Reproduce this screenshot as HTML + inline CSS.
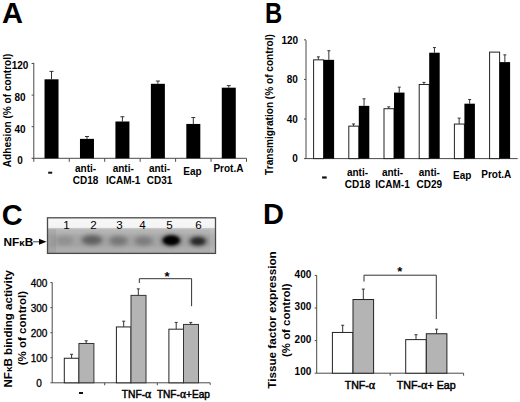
<!DOCTYPE html>
<html><head><meta charset="utf-8"><style>
html,body{margin:0;padding:0;background:#fff;}
body{width:520px;height:402px;overflow:hidden;}
svg{display:block;font-family:"Liberation Sans", sans-serif;}
</style></head><body>
<svg width="520" height="402" viewBox="0 0 520 402">
<rect width="520" height="402" fill="#fff"/>
<text x="12.6" y="22.6" font-size="29" font-weight="bold" text-anchor="middle" >A</text>
<line x1="33.8" y1="62.8" x2="33.8" y2="158.3" stroke="#4a4a4a" stroke-width="1"/>
<line x1="33.3" y1="158.3" x2="246.5" y2="158.3" stroke="#4a4a4a" stroke-width="1"/>
<line x1="31.6" y1="158.3" x2="33.8" y2="158.3" stroke="#4a4a4a" stroke-width="1"/>
<text x="20" y="164.1" font-size="10" font-weight="bold" text-anchor="middle" >0</text>
<line x1="31.6" y1="126.7" x2="33.8" y2="126.7" stroke="#4a4a4a" stroke-width="1"/>
<text x="20" y="132.5" font-size="10" font-weight="bold" text-anchor="middle" >40</text>
<line x1="31.6" y1="95.1" x2="33.8" y2="95.1" stroke="#4a4a4a" stroke-width="1"/>
<text x="20" y="100.9" font-size="10" font-weight="bold" text-anchor="middle" >80</text>
<line x1="31.6" y1="63.5" x2="33.8" y2="63.5" stroke="#4a4a4a" stroke-width="1"/>
<text x="20" y="69.3" font-size="10" font-weight="bold" text-anchor="middle" >120</text>
<line x1="33.8" y1="158.3" x2="33.8" y2="161.8" stroke="#4a4a4a" stroke-width="1"/>
<line x1="69.25" y1="158.3" x2="69.25" y2="161.8" stroke="#4a4a4a" stroke-width="1"/>
<line x1="104.7" y1="158.3" x2="104.7" y2="161.8" stroke="#4a4a4a" stroke-width="1"/>
<line x1="140.15" y1="158.3" x2="140.15" y2="161.8" stroke="#4a4a4a" stroke-width="1"/>
<line x1="175.6" y1="158.3" x2="175.6" y2="161.8" stroke="#4a4a4a" stroke-width="1"/>
<line x1="211.05" y1="158.3" x2="211.05" y2="161.8" stroke="#4a4a4a" stroke-width="1"/>
<line x1="246.5" y1="158.3" x2="246.5" y2="161.8" stroke="#4a4a4a" stroke-width="1"/>
<line x1="51.52" y1="71.4" x2="51.52" y2="79.3" stroke="#333" stroke-width="1"/>
<line x1="49.52" y1="71.4" x2="53.52" y2="71.4" stroke="#333" stroke-width="1"/>
<rect x="44.52" y="79.3" width="14" height="79.0" fill="#000" stroke="none" stroke-width="1"/>
<line x1="86.97" y1="136.5" x2="86.97" y2="138.87" stroke="#333" stroke-width="1"/>
<line x1="84.97" y1="136.5" x2="88.97" y2="136.5" stroke="#333" stroke-width="1"/>
<rect x="79.97" y="138.87" width="14" height="19.43" fill="#000" stroke="none" stroke-width="1"/>
<line x1="122.42" y1="116.75" x2="122.42" y2="121.49" stroke="#333" stroke-width="1"/>
<line x1="120.42" y1="116.75" x2="124.42" y2="116.75" stroke="#333" stroke-width="1"/>
<rect x="115.42" y="121.49" width="14" height="36.81" fill="#000" stroke="none" stroke-width="1"/>
<line x1="157.88" y1="81.04" x2="157.88" y2="83.8" stroke="#333" stroke-width="1"/>
<line x1="155.88" y1="81.04" x2="159.88" y2="81.04" stroke="#333" stroke-width="1"/>
<rect x="150.88" y="83.8" width="14" height="74.5" fill="#000" stroke="none" stroke-width="1"/>
<line x1="193.32" y1="117.54" x2="193.32" y2="123.94" stroke="#333" stroke-width="1"/>
<line x1="191.32" y1="117.54" x2="195.32" y2="117.54" stroke="#333" stroke-width="1"/>
<rect x="186.32" y="123.94" width="14" height="34.37" fill="#000" stroke="none" stroke-width="1"/>
<line x1="228.78" y1="85.62" x2="228.78" y2="87.67" stroke="#333" stroke-width="1"/>
<line x1="226.78" y1="85.62" x2="230.78" y2="85.62" stroke="#333" stroke-width="1"/>
<rect x="221.78" y="87.67" width="14" height="70.63" fill="#000" stroke="none" stroke-width="1"/>
<rect x="48.2" y="171.7" width="4" height="2" fill="#111" stroke="none" stroke-width="1"/>
<text x="85.6" y="171.8" font-size="10" font-weight="bold" text-anchor="middle" >anti-</text>
<text x="85.6" y="183.8" font-size="10" font-weight="bold" text-anchor="middle" >CD18</text>
<text x="123.2" y="171.8" font-size="10" font-weight="bold" text-anchor="middle" >anti-</text>
<text x="123.2" y="183.8" font-size="10" font-weight="bold" text-anchor="middle" >ICAM-1</text>
<text x="159.5" y="171.8" font-size="10" font-weight="bold" text-anchor="middle" >anti-</text>
<text x="159.5" y="183.8" font-size="10" font-weight="bold" text-anchor="middle" >CD31</text>
<text x="192.4" y="174.6" font-size="10" font-weight="bold" text-anchor="middle" >Eap</text>
<text x="228.4" y="172.4" font-size="10" font-weight="bold" text-anchor="middle" >Prot.A</text>
<text transform="translate(11.2,110.4) rotate(-90)" font-size="10.2" font-weight="bold" text-anchor="middle" textLength="113.6" lengthAdjust="spacingAndGlyphs">Adhesion (% of control)</text>
<text x="273.5" y="22.8" font-size="29" font-weight="bold" text-anchor="middle" textLength="17.2" lengthAdjust="spacingAndGlyphs" >B</text>
<line x1="306" y1="40.2" x2="306" y2="158.6" stroke="#4a4a4a" stroke-width="1"/>
<line x1="305.5" y1="158.6" x2="517.7" y2="158.6" stroke="#4a4a4a" stroke-width="1"/>
<line x1="304" y1="158.6" x2="306" y2="158.6" stroke="#4a4a4a" stroke-width="1"/>
<text x="297.8" y="162.4" font-size="10" font-weight="bold" text-anchor="end" >0</text>
<line x1="304" y1="119.02" x2="306" y2="119.02" stroke="#4a4a4a" stroke-width="1"/>
<text x="297.8" y="122.82" font-size="10" font-weight="bold" text-anchor="end" >40</text>
<line x1="304" y1="79.43" x2="306" y2="79.43" stroke="#4a4a4a" stroke-width="1"/>
<text x="297.8" y="83.23" font-size="10" font-weight="bold" text-anchor="end" >80</text>
<line x1="304" y1="39.85" x2="306" y2="39.85" stroke="#4a4a4a" stroke-width="1"/>
<text x="298.2" y="44.45" font-size="10" font-weight="bold" text-anchor="end" >120</text>
<line x1="318.35" y1="56.87" x2="318.35" y2="59.84" stroke="#333" stroke-width="1"/>
<line x1="316.85" y1="56.87" x2="319.85" y2="56.87" stroke="#333" stroke-width="1"/>
<rect x="313.6" y="59.84" width="10" height="98.76" fill="#fff" stroke="#222" stroke-width="1"/>
<line x1="328.85" y1="50.73" x2="328.85" y2="59.84" stroke="#333" stroke-width="1"/>
<line x1="327.35" y1="50.73" x2="330.35" y2="50.73" stroke="#333" stroke-width="1"/>
<rect x="323.6" y="59.84" width="10.5" height="98.76" fill="#000" stroke="none" stroke-width="1"/>
<line x1="353.55" y1="123.96" x2="353.55" y2="126.14" stroke="#333" stroke-width="1"/>
<line x1="352.05" y1="123.96" x2="355.05" y2="123.96" stroke="#333" stroke-width="1"/>
<rect x="348.8" y="126.14" width="10" height="32.46" fill="#fff" stroke="#222" stroke-width="1"/>
<line x1="364.05" y1="98.83" x2="364.05" y2="105.85" stroke="#333" stroke-width="1"/>
<line x1="362.55" y1="98.83" x2="365.55" y2="98.83" stroke="#333" stroke-width="1"/>
<rect x="358.8" y="105.85" width="10.5" height="52.75" fill="#000" stroke="none" stroke-width="1"/>
<line x1="388.75" y1="106.84" x2="388.75" y2="108.72" stroke="#333" stroke-width="1"/>
<line x1="387.25" y1="106.84" x2="390.25" y2="106.84" stroke="#333" stroke-width="1"/>
<rect x="384.0" y="108.72" width="10" height="49.88" fill="#fff" stroke="#222" stroke-width="1"/>
<line x1="399.25" y1="87.15" x2="399.25" y2="92.59" stroke="#333" stroke-width="1"/>
<line x1="397.75" y1="87.15" x2="400.75" y2="87.15" stroke="#333" stroke-width="1"/>
<rect x="394.0" y="92.59" width="10.5" height="66.01" fill="#000" stroke="none" stroke-width="1"/>
<line x1="423.95" y1="82.4" x2="423.95" y2="84.48" stroke="#333" stroke-width="1"/>
<line x1="422.45" y1="82.4" x2="425.45" y2="82.4" stroke="#333" stroke-width="1"/>
<rect x="419.2" y="84.48" width="10" height="74.12" fill="#fff" stroke="#222" stroke-width="1"/>
<line x1="434.45" y1="47.57" x2="434.45" y2="52.71" stroke="#333" stroke-width="1"/>
<line x1="432.95" y1="47.57" x2="435.95" y2="47.57" stroke="#333" stroke-width="1"/>
<rect x="429.2" y="52.71" width="10.5" height="105.89" fill="#000" stroke="none" stroke-width="1"/>
<line x1="459.15" y1="118.13" x2="459.15" y2="124.06" stroke="#333" stroke-width="1"/>
<line x1="457.65" y1="118.13" x2="460.65" y2="118.13" stroke="#333" stroke-width="1"/>
<rect x="454.4" y="124.06" width="10" height="34.54" fill="#fff" stroke="#222" stroke-width="1"/>
<line x1="469.65" y1="99.52" x2="469.65" y2="103.68" stroke="#333" stroke-width="1"/>
<line x1="468.15" y1="99.52" x2="471.15" y2="99.52" stroke="#333" stroke-width="1"/>
<rect x="464.4" y="103.68" width="10.5" height="54.92" fill="#000" stroke="none" stroke-width="1"/>
<rect x="489.6" y="52.12" width="10" height="106.48" fill="#fff" stroke="#222" stroke-width="1"/>
<line x1="504.85" y1="54.89" x2="504.85" y2="62.11" stroke="#333" stroke-width="1"/>
<line x1="503.35" y1="54.89" x2="506.35" y2="54.89" stroke="#333" stroke-width="1"/>
<rect x="499.6" y="62.11" width="10.5" height="96.49" fill="#000" stroke="none" stroke-width="1"/>
<rect x="322.1" y="176.4" width="4.6" height="2.2" fill="#111" stroke="none" stroke-width="1"/>
<text x="357.5" y="176.3" font-size="10" font-weight="bold" text-anchor="middle" >anti-</text>
<text x="357.5" y="188.1" font-size="10" font-weight="bold" text-anchor="middle" >CD18</text>
<text x="392.5" y="176.3" font-size="10" font-weight="bold" text-anchor="middle" >anti-</text>
<text x="392.5" y="188.1" font-size="10" font-weight="bold" text-anchor="middle" >ICAM-1</text>
<text x="429.3" y="176.3" font-size="10" font-weight="bold" text-anchor="middle" >anti-</text>
<text x="429.3" y="188.1" font-size="10" font-weight="bold" text-anchor="middle" >CD29</text>
<text x="462.2" y="178.8" font-size="10" font-weight="bold" text-anchor="middle" >Eap</text>
<text x="496.3" y="177.5" font-size="10" font-weight="bold" text-anchor="middle" >Prot.A</text>
<text transform="translate(273,104.5) rotate(-90)" font-size="10" font-weight="bold" text-anchor="middle" textLength="140.8" lengthAdjust="spacingAndGlyphs">Transmigration (% of control)</text>
<text x="12.3" y="224.6" font-size="29" font-weight="bold" text-anchor="middle" >C</text>
<defs><linearGradient id="gelg" x1="0" y1="0" x2="0" y2="1"><stop offset="0" stop-color="#f8f8f8"/><stop offset="0.27" stop-color="#f4f4f4"/><stop offset="0.3" stop-color="#c6c6c6"/><stop offset="0.35" stop-color="#b5b5b5"/><stop offset="1" stop-color="#ababab"/></linearGradient><filter id="bl" x="-60%" y="-100%" width="220%" height="300%"><feGaussianBlur stdDeviation="2.4 2"/></filter><filter id="bl2" x="-60%" y="-100%" width="220%" height="300%"><feGaussianBlur stdDeviation="1.6 1.5"/></filter></defs>
<rect x="47.5" y="217.8" width="168" height="35.6" fill="url(#gelg)" stroke="#4a4a4a" stroke-width="1.3"/>
<rect x="48" y="229" width="8" height="24" fill="#000" opacity="0.05" stroke="none" stroke-width="1"/>
<rect x="210" y="229" width="5" height="24" fill="#fff" opacity="0.1" stroke="none" stroke-width="1"/>
<rect x="48" y="234" width="167" height="13" fill="#000" opacity="0.06" filter="url(#bl2)"/>
<ellipse cx="64.5" cy="240.5" rx="9.0" ry="4.5" fill="#000" opacity="0.12" filter="url(#bl)"/>
<ellipse cx="92" cy="240" rx="10.5" ry="5.0" fill="#000" opacity="0.42" filter="url(#bl)"/>
<ellipse cx="118.5" cy="240.8" rx="9.5" ry="4.75" fill="#000" opacity="0.28" filter="url(#bl)"/>
<ellipse cx="143.5" cy="241" rx="9.5" ry="4.75" fill="#000" opacity="0.24" filter="url(#bl)"/>
<ellipse cx="171.3" cy="240.4" rx="9.0" ry="5.25" fill="#000" opacity="1.0" filter="url(#bl)"/>
<ellipse cx="198" cy="241.2" rx="8.5" ry="4.5" fill="#000" opacity="0.72" filter="url(#bl)"/>
<ellipse cx="171.3" cy="240.3" rx="7.5" ry="3.8" fill="#000" filter="url(#bl2)"/>
<ellipse cx="198" cy="241.2" rx="6" ry="2.8" fill="#222" opacity="0.6" filter="url(#bl2)"/>
<text x="66.6" y="229.3" font-size="11.6" font-weight="normal" text-anchor="middle" >1</text>
<text x="93.5" y="229.3" font-size="11.6" font-weight="normal" text-anchor="middle" >2</text>
<text x="119.5" y="229.3" font-size="11.6" font-weight="normal" text-anchor="middle" >3</text>
<text x="142.5" y="229.3" font-size="11.6" font-weight="normal" text-anchor="middle" >4</text>
<text x="169.5" y="229.3" font-size="11.6" font-weight="normal" text-anchor="middle" >5</text>
<text x="198.5" y="229.3" font-size="11.6" font-weight="normal" text-anchor="middle" >6</text>
<text x="3.4" y="245.9" font-size="10.8" font-weight="bold" text-anchor="start" textLength="29.8" lengthAdjust="spacingAndGlyphs" >NF<tspan font-size="9" dy="0">&#954;</tspan>B</text>
<path d="M33,241.8 L40,241.8" stroke="#444" stroke-width="1"/><path d="M46.5,241.8 L39,238.8 L39,244.8 Z" fill="#000"/>
<line x1="52.2" y1="282.4" x2="52.2" y2="382.8" stroke="#4a4a4a" stroke-width="1"/>
<line x1="52.2" y1="382.8" x2="210.2" y2="382.8" stroke="#4a4a4a" stroke-width="1"/>
<line x1="50.4" y1="382.8" x2="52.2" y2="382.8" stroke="#4a4a4a" stroke-width="1"/>
<text x="39" y="386.8" font-size="10" font-weight="normal" text-anchor="middle" stroke="#000" stroke-width="0.3">0</text>
<line x1="50.4" y1="357.75" x2="52.2" y2="357.75" stroke="#4a4a4a" stroke-width="1"/>
<text x="39" y="361.75" font-size="10" font-weight="normal" text-anchor="middle" stroke="#000" stroke-width="0.3">100</text>
<line x1="50.4" y1="332.7" x2="52.2" y2="332.7" stroke="#4a4a4a" stroke-width="1"/>
<text x="39" y="336.7" font-size="10" font-weight="normal" text-anchor="middle" stroke="#000" stroke-width="0.3">200</text>
<line x1="50.4" y1="307.65" x2="52.2" y2="307.65" stroke="#4a4a4a" stroke-width="1"/>
<text x="39" y="311.65" font-size="10" font-weight="normal" text-anchor="middle" stroke="#000" stroke-width="0.3">300</text>
<line x1="50.4" y1="282.6" x2="52.2" y2="282.6" stroke="#4a4a4a" stroke-width="1"/>
<text x="39" y="286.6" font-size="10" font-weight="normal" text-anchor="middle" stroke="#000" stroke-width="0.3">400</text>
<line x1="104.7" y1="382.8" x2="104.7" y2="385.3" stroke="#4a4a4a" stroke-width="1"/>
<line x1="157.3" y1="382.8" x2="157.3" y2="385.3" stroke="#4a4a4a" stroke-width="1"/>
<line x1="210.2" y1="382.8" x2="210.2" y2="384.8" stroke="#4a4a4a" stroke-width="1"/>
<line x1="71.6" y1="354.29" x2="71.6" y2="358.25" stroke="#333" stroke-width="1"/>
<line x1="70.1" y1="354.29" x2="73.1" y2="354.29" stroke="#333" stroke-width="1"/>
<rect x="64.3" y="358.25" width="14.6" height="24.55" fill="#fff" stroke="#222" stroke-width="1"/>
<line x1="86.2" y1="340.79" x2="86.2" y2="343.47" stroke="#333" stroke-width="1"/>
<line x1="84.7" y1="340.79" x2="87.7" y2="340.79" stroke="#333" stroke-width="1"/>
<rect x="78.9" y="343.47" width="15" height="39.33" fill="#b4b4b4" stroke="#333" stroke-width="1"/>
<line x1="123.7" y1="321.18" x2="123.7" y2="326.94" stroke="#333" stroke-width="1"/>
<line x1="122.2" y1="321.18" x2="125.2" y2="321.18" stroke="#333" stroke-width="1"/>
<rect x="116.4" y="326.94" width="14.6" height="55.86" fill="#fff" stroke="#222" stroke-width="1"/>
<line x1="138.3" y1="288.86" x2="138.3" y2="295.38" stroke="#333" stroke-width="1"/>
<line x1="136.8" y1="288.86" x2="139.8" y2="288.86" stroke="#333" stroke-width="1"/>
<rect x="131.0" y="295.38" width="15" height="87.42" fill="#b4b4b4" stroke="#333" stroke-width="1"/>
<line x1="176.2" y1="322.43" x2="176.2" y2="329.19" stroke="#333" stroke-width="1"/>
<line x1="174.7" y1="322.43" x2="177.7" y2="322.43" stroke="#333" stroke-width="1"/>
<rect x="168.9" y="329.19" width="14.6" height="53.61" fill="#fff" stroke="#222" stroke-width="1"/>
<line x1="190.8" y1="322.43" x2="190.8" y2="324.43" stroke="#333" stroke-width="1"/>
<line x1="189.3" y1="322.43" x2="192.3" y2="322.43" stroke="#333" stroke-width="1"/>
<rect x="183.5" y="324.43" width="15" height="58.37" fill="#b4b4b4" stroke="#333" stroke-width="1"/>
<path d="M139.3,283 L139.3,278.7 L191.6,278.7 L191.6,306.2" fill="none" stroke="#333" stroke-width="1"/>
<text x="167" y="280.6" font-size="13" font-weight="bold" text-anchor="middle" >*</text>
<rect x="79.0" y="392.0" width="4" height="2" fill="#111" stroke="none" stroke-width="1"/>
<text x="136.5" y="398" font-size="10" font-weight="normal" text-anchor="middle" textLength="29.6" lengthAdjust="spacingAndGlyphs" stroke="#000" stroke-width="0.45">TNF-<tspan font-family="Liberation Serif" font-size="11.5">&#945;</tspan></text>
<text x="183.4" y="398" font-size="10" font-weight="normal" text-anchor="middle" textLength="53" lengthAdjust="spacingAndGlyphs" stroke="#000" stroke-width="0.45">TNF-<tspan font-family="Liberation Serif" font-size="11.5">&#945;</tspan>+Eap</text>
<text transform="translate(12.1,328.8) rotate(-90)" font-size="10.4" font-weight="bold" text-anchor="middle" textLength="117.5" lengthAdjust="spacingAndGlyphs">NF<tspan font-size="9">&#954;</tspan>B binding activity</text>
<text transform="translate(26,328.1) rotate(-90)" font-size="10.4" font-weight="bold" text-anchor="middle" textLength="74.5" lengthAdjust="spacingAndGlyphs">(% of control)</text>
<text x="273.6" y="224.4" font-size="29" font-weight="bold" text-anchor="middle" >D</text>
<line x1="316.7" y1="275.4" x2="316.7" y2="373.2" stroke="#4a4a4a" stroke-width="1"/>
<line x1="316.7" y1="373.2" x2="463.6" y2="373.2" stroke="#4a4a4a" stroke-width="1"/>
<line x1="314.7" y1="373.2" x2="316.7" y2="373.2" stroke="#4a4a4a" stroke-width="1"/>
<text x="311.3" y="375.4" font-size="10" font-weight="bold" text-anchor="end" >100</text>
<line x1="314.7" y1="340.6" x2="316.7" y2="340.6" stroke="#4a4a4a" stroke-width="1"/>
<text x="311.3" y="342.8" font-size="10" font-weight="bold" text-anchor="end" >200</text>
<line x1="314.7" y1="308.0" x2="316.7" y2="308.0" stroke="#4a4a4a" stroke-width="1"/>
<text x="311.3" y="310.2" font-size="10" font-weight="bold" text-anchor="end" >300</text>
<line x1="314.7" y1="275.4" x2="316.7" y2="275.4" stroke="#4a4a4a" stroke-width="1"/>
<text x="311.3" y="277.6" font-size="10" font-weight="bold" text-anchor="end" >400</text>
<line x1="390.2" y1="373.2" x2="390.2" y2="375.7" stroke="#4a4a4a" stroke-width="1"/>
<line x1="463.6" y1="373.2" x2="463.6" y2="375.7" stroke="#4a4a4a" stroke-width="1"/>
<line x1="342.7" y1="325.28" x2="342.7" y2="332.45" stroke="#333" stroke-width="1"/>
<line x1="341.2" y1="325.28" x2="344.2" y2="325.28" stroke="#333" stroke-width="1"/>
<rect x="332.4" y="332.45" width="20.6" height="40.75" fill="#fff" stroke="#222" stroke-width="1"/>
<line x1="363.3" y1="289.09" x2="363.3" y2="299.52" stroke="#333" stroke-width="1"/>
<line x1="361.8" y1="289.09" x2="364.8" y2="289.09" stroke="#333" stroke-width="1"/>
<rect x="353.0" y="299.52" width="20.6" height="73.68" fill="#b4b4b4" stroke="#222" stroke-width="1"/>
<line x1="416.0" y1="334.73" x2="416.0" y2="339.62" stroke="#333" stroke-width="1"/>
<line x1="414.5" y1="334.73" x2="417.5" y2="334.73" stroke="#333" stroke-width="1"/>
<rect x="405.7" y="339.62" width="20.6" height="33.58" fill="#fff" stroke="#222" stroke-width="1"/>
<line x1="436.6" y1="329.19" x2="436.6" y2="333.75" stroke="#333" stroke-width="1"/>
<line x1="435.1" y1="329.19" x2="438.1" y2="329.19" stroke="#333" stroke-width="1"/>
<rect x="426.3" y="333.75" width="20.6" height="39.45" fill="#b4b4b4" stroke="#222" stroke-width="1"/>
<path d="M364,281.6 L364,275.2 L436.3,275.2 L436.3,319" fill="none" stroke="#333" stroke-width="1"/>
<text x="399.8" y="276" font-size="13" font-weight="bold" text-anchor="middle" >*</text>
<text x="360" y="388.6" font-size="10" font-weight="normal" text-anchor="middle" textLength="30.5" lengthAdjust="spacingAndGlyphs" stroke="#000" stroke-width="0.45">TNF-<tspan font-family="Liberation Serif" font-size="11.5">&#945;</tspan></text>
<text x="426.2" y="388.6" font-size="10" font-weight="normal" text-anchor="middle" textLength="59" lengthAdjust="spacingAndGlyphs" stroke="#000" stroke-width="0.45">TNF-<tspan font-family="Liberation Serif" font-size="11.5">&#945;</tspan>+ Eap</text>
<text transform="translate(276.4,320) rotate(-90)" font-size="11.2" font-weight="bold" text-anchor="middle" textLength="137.5" lengthAdjust="spacingAndGlyphs">Tissue factor expression</text>
<text transform="translate(289.9,320.2) rotate(-90)" font-size="11" font-weight="bold" text-anchor="middle" textLength="73.5" lengthAdjust="spacingAndGlyphs">(% of control)</text>
</svg>
</body></html>
